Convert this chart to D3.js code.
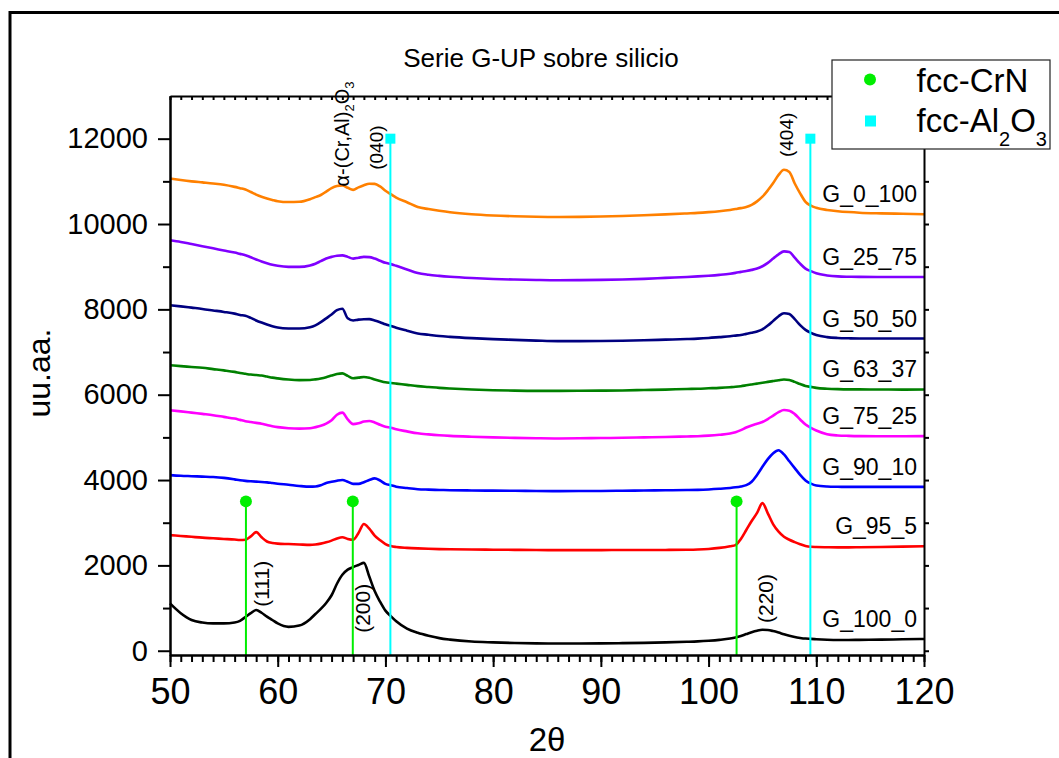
<!DOCTYPE html>
<html>
<head>
<meta charset="utf-8">
<script src="https://cdn.jsdelivr.net/npm/d3@7"></script>
<style>
  body { margin: 0; background: #fff; }
  svg { display: block; }
  text { font-family: "Liberation Sans", Arial, sans-serif; fill: #000; }
</style>
</head>
<body>
<svg id="chart" width="1059" height="758"></svg>
<script>
// Diffraction angle grid (degrees 2θ) shared by every pattern
const twoTheta = [
  50, 51, 52, 53, 54, 55, 56,
  56.5, 57, 57.5, 58, 58.5, 59, 59.5, 60,
  61, 62,
  63, 63.5, 64, 64.5, 65, 65.5, 66, 66.5, 67, 67.5, 68, 68.5, 69, 69.5, 70, 70.5, 71,
  72, 73, 74, 75, 76,
  78, 80, 82, 84, 86, 88, 90, 92, 94, 96, 98,
  99, 100, 101,
  102, 102.5, 103, 103.5, 104, 104.5, 105, 105.5, 106, 106.5, 107, 107.5, 108, 108.5, 109, 109.5, 110,
  111, 112, 113, 114,
  116, 118, 120
];

// Intensities (offset for display), one array per sample
const G_0_100 = [
  11064, 11030, 11000, 10975, 10950, 10920, 10870,
  10840, 10810, 10750, 10690, 10640, 10600, 10565, 10535,
  10515, 10520,
  10580, 10630, 10680, 10760, 10840, 10890, 10905, 10850, 10800, 10860, 10910, 10945, 10940, 10880, 10780, 10700, 10620,
  10510, 10400, 10350, 10310, 10275,
  10228, 10200, 10182, 10170, 10165, 10168, 10175, 10188, 10205, 10225, 10248,
  10260, 10278, 10300,
  10330, 10350, 10372, 10400, 10450, 10530, 10640, 10790, 10960, 11150, 11270, 11220, 10950, 10720, 10520, 10430, 10380,
  10330, 10300, 10280, 10265,
  10250, 10240, 10230
];
const G_25_75 = [
  9618, 9580, 9530, 9480, 9430, 9380, 9330,
  9300, 9270, 9220, 9170, 9120, 9080, 9045, 9020,
  8995, 8995,
  9030, 9070, 9130, 9190, 9230, 9258, 9265, 9230, 9190, 9210, 9230, 9225, 9190, 9140, 9090, 9060, 9020,
  8935, 8850, 8810, 8785, 8765,
  8735, 8712, 8698, 8688, 8682, 8685, 8690, 8700, 8715, 8738, 8760,
  8772, 8788, 8808,
  8835, 8855, 8878, 8900, 8925, 8956, 9010, 9090, 9190, 9290, 9360, 9345, 9210, 9070, 8955, 8895, 8845,
  8795, 8772, 8765, 8762,
  8760, 8760, 8760
];
const G_50_50 = [
  8096, 8070, 8040, 8010, 7975, 7940, 7900,
  7870, 7850, 7800, 7740, 7690, 7645, 7605, 7575,
  7552, 7550,
  7580, 7625, 7700, 7790, 7880, 7980, 8015, 7790, 7740, 7760, 7768, 7770, 7740, 7700, 7650, 7612, 7570,
  7500, 7435, 7405, 7375, 7355,
  7325, 7302, 7285, 7268, 7255, 7255, 7258, 7265, 7275, 7290, 7305,
  7315, 7330, 7350,
  7370, 7385, 7400, 7425, 7450, 7480, 7530, 7620, 7730, 7840, 7910, 7890, 7770, 7630, 7520, 7450, 7400,
  7350, 7330, 7322, 7318,
  7316, 7316, 7316
];
const G_63_37 = [
  6691, 6670, 6650, 6630, 6600, 6570, 6535,
  6510, 6490, 6472, 6460, 6450, 6425, 6400, 6382,
  6355, 6342,
  6345, 6360, 6380, 6410, 6450, 6485, 6500, 6440, 6385, 6400, 6415, 6395, 6355, 6320, 6290, 6275, 6260,
  6230, 6200, 6180, 6160, 6145,
  6122, 6105, 6095, 6090, 6090, 6092, 6095, 6100, 6110, 6120, 6135,
  6140, 6150, 6160,
  6175, 6185, 6200, 6220, 6240, 6260, 6280, 6300, 6320, 6340, 6355, 6345, 6300, 6250, 6205, 6183, 6160,
  6140, 6130, 6125, 6124,
  6122, 6120, 6122
];
const G_75_25 = [
  5637, 5610, 5580, 5550, 5520, 5480, 5440,
  5410, 5380, 5360, 5340, 5320, 5290, 5262, 5240,
  5215, 5205,
  5215, 5240, 5270, 5320, 5400, 5530, 5580, 5420, 5310, 5330, 5370, 5385, 5350, 5295, 5250, 5225, 5190,
  5140, 5095, 5070, 5050, 5035,
  5015, 5000, 4988, 4980, 4975, 4978, 4985, 4990, 5000, 5010, 5022,
  5028, 5040, 5060,
  5090, 5120, 5170, 5230, 5280, 5320, 5360, 5430, 5510, 5590, 5640, 5625, 5545, 5420, 5300, 5225, 5160,
  5075, 5045, 5035, 5030,
  5028, 5028, 5030
];
const G_90_10 = [
  4115, 4100, 4090, 4080, 4070, 4050, 4015,
  3995, 3980, 3970, 3962, 3955, 3945, 3930, 3915,
  3890, 3862,
  3845, 3850, 3880, 3930, 3960, 3985, 4000, 3960, 3910, 3910, 3950, 4000, 4038, 3990, 3910, 3880, 3845,
  3812, 3785, 3775, 3768, 3762,
  3756, 3752, 3748, 3744, 3740, 3742, 3745, 3750, 3755, 3760, 3765,
  3770, 3780, 3795,
  3815, 3830, 3850, 3880, 3960, 4120, 4310, 4490, 4630, 4700, 4600, 4440, 4280, 4120, 3990, 3915, 3870,
  3848, 3842, 3840, 3840,
  3840, 3840, 3841
];
const G_95_5 = [
  2710, 2690, 2670, 2650, 2635, 2620, 2605,
  2595, 2600, 2680, 2780, 2660, 2560, 2525, 2510,
  2500, 2490,
  2480, 2490, 2510, 2540, 2580, 2630, 2660, 2620, 2600, 2760, 2970, 2860, 2700, 2590, 2500, 2452, 2430,
  2410, 2398, 2390, 2382, 2378,
  2372, 2368, 2364, 2360, 2358, 2358, 2358, 2360, 2360, 2362, 2366,
  2372, 2385, 2410,
  2450, 2476, 2620, 2830, 3040, 3230, 3460, 3220, 2960, 2790, 2670, 2600, 2545, 2495, 2455, 2436, 2430,
  2425, 2422, 2422, 2425,
  2432, 2440, 2450
];
const G_100_0 = [
  1110, 880, 720, 660, 640, 640, 660,
  700, 790, 880, 955, 890, 800, 720, 640,
  560, 590,
  740, 860, 980, 1120, 1300, 1570, 1780, 1900, 1960, 2010, 2060, 1740, 1400, 1150, 940, 810, 690,
  520, 420, 350, 295, 260,
  215, 195, 180, 172, 170, 170, 172, 178, 185, 195, 210,
  220, 235, 255,
  285, 310, 345, 390, 435, 470, 490, 485, 460, 425, 385, 350, 320, 300, 285, 278, 270,
  258, 252, 252, 255,
  260, 268, 275
];

const seriesNames  = ["G_0_100", "G_25_75", "G_50_50", "G_63_37", "G_75_25", "G_90_10", "G_95_5", "G_100_0"];
const seriesValues = [G_0_100, G_25_75, G_50_50, G_63_37, G_75_25, G_90_10, G_95_5, G_100_0];
const seriesColors = ["#ff8000", "#8000ff", "#000080", "#008000", "#ff00ff", "#0000ff", "#ff0000", "#000000"];

// Reference reflections
const crnPeaks = [57.05, 66.97, 102.6];
const crnMarkerLevel = 3500;
const al2o3Peaks = [70.46, 109.45];
const al2o3MarkerLevel = 12000;

// Axis ticks
const xMajorTicks = [50, 60, 70, 80, 90, 100, 110, 120];
const yMajorTicks = [0, 2000, 4000, 6000, 8000, 10000, 12000];

const width = 1059, height = 758;
const plot = { left: 170, right: 924, top: 96, bottom: 655 };

const svg = d3.select("#chart");

const x = d3.scaleLinear().domain([50, 120]).range([plot.left, plot.right]);
const y = d3.scaleLinear().domain([-100, 13000]).range([plot.bottom, plot.top]);

// outer frame
svg.append("path")
  .attr("d", `M10,${height + 5} L10,12.5 L${width + 5},12.5`)
  .attr("fill", "none").attr("stroke", "#000").attr("stroke-width", 3);

// title
svg.append("text")
  .attr("x", 541).attr("y", 67)
  .attr("text-anchor", "middle")
  .attr("font-size", 26)
  .text("Serie G-UP sobre silicio");

// patterns
const line = d3.line()
  .x(d => x(d[0]))
  .y(d => y(d[1]))
  .curve(d3.curveMonotoneX);

const gSeries = svg.append("g");
seriesValues.forEach((vals, i) => {
  const pts = twoTheta.map((t, k) => [t, vals[k]]);
  gSeries.append("path")
    .attr("d", line(pts))
    .attr("fill", "none")
    .attr("stroke", seriesColors[i])
    .attr("stroke-width", 2.6)
    .attr("stroke-linejoin", "round");
  // sample name, just above the end of its pattern
  gSeries.append("text")
    .attr("x", 917)
    .attr("y", y(vals[vals.length - 1]) - 12)
    .attr("text-anchor", "end")
    .attr("font-size", 23)
    .text(seriesNames[i]);
});

// reference drop lines with markers
const gRef = svg.append("g");
crnPeaks.forEach(p => {
  gRef.append("line")
    .attr("x1", x(p)).attr("x2", x(p))
    .attr("y1", y(crnMarkerLevel)).attr("y2", plot.bottom)
    .attr("stroke", "#00ee00").attr("stroke-width", 2);
  gRef.append("circle")
    .attr("cx", x(p)).attr("cy", y(crnMarkerLevel)).attr("r", 6)
    .attr("fill", "#00ee00");
});
al2o3Peaks.forEach(p => {
  gRef.append("line")
    .attr("x1", x(p)).attr("x2", x(p))
    .attr("y1", y(al2o3MarkerLevel)).attr("y2", plot.bottom)
    .attr("stroke", "#00ffff").attr("stroke-width", 2);
  gRef.append("rect")
    .attr("x", x(p) - 5).attr("y", y(al2o3MarkerLevel) - 5)
    .attr("width", 10).attr("height", 10)
    .attr("fill", "#00ffff");
});

// Miller-index annotations (rotated, reading upward)
const annotations = [
  { text: "(111)", angle: 59.15, level: 1030, size: 21 },
  { text: "(200)", angle: 68.6, level: 420, size: 21 },
  { text: "(220)", angle: 105.95, level: 650, size: 21 },
  { text: "(040)", angle: 69.75, level: 11270, size: 19 },
  { text: "(404)", angle: 107.8, level: 11570, size: 19 }
];
annotations.forEach(a => {
  svg.append("text")
    .attr("transform", `translate(${x(a.angle)},${y(a.level)}) rotate(-90)`)
    .attr("font-size", a.size)
    .text(a.text);
});
const alpha = svg.append("text")
  .attr("transform", `translate(${x(66.65)},${y(10880)}) rotate(-90)`)
  .attr("font-size", 20);
alpha.append("tspan").text("α-(Cr,Al)");
alpha.append("tspan").attr("font-size", 13).attr("dy", 5).text("2");
alpha.append("tspan").attr("dy", -5).text("O");
alpha.append("tspan").attr("font-size", 13).attr("dy", 5).text("3");

// axes
function styleAxis(g) {
  g.selectAll(".domain").attr("stroke", "#000").attr("stroke-width", 2);
  g.selectAll(".tick line").attr("stroke", "#000").attr("stroke-width", 2);
  g.selectAll(".tick text").attr("fill", "#000").attr("font-family", "Liberation Sans, Arial, sans-serif");
}
const xMinor = d3.range(50, 121, 1);
const yMinor = d3.range(1000, 13000, 2000);
const yAll = d3.range(0, 13000, 1000);

// bottom
svg.append("g").attr("transform", `translate(0,${plot.bottom})`)
  .call(d3.axisBottom(x).tickValues(xMinor).tickSize(7).tickSizeOuter(0).tickFormat(""))
  .call(styleAxis);
svg.append("g").attr("transform", `translate(0,${plot.bottom})`)
  .call(d3.axisBottom(x).tickValues(xMajorTicks).tickSize(12).tickSizeOuter(0).tickPadding(11).tickFormat(d3.format("d")))
  .call(styleAxis)
  .call(g => g.selectAll(".tick text").attr("font-size", 36));

// top
svg.append("g").attr("transform", `translate(0,${plot.top})`)
  .call(d3.axisBottom(x).tickValues(xMinor).tickSize(4).tickSizeOuter(0).tickFormat(""))
  .call(styleAxis);

// left
svg.append("g").attr("transform", `translate(${plot.left},0)`)
  .call(d3.axisLeft(y).tickValues(yMinor).tickSize(7).tickSizeOuter(0).tickFormat(""))
  .call(styleAxis);
svg.append("g").attr("transform", `translate(${plot.left},0)`)
  .call(d3.axisLeft(y).tickValues(yMajorTicks).tickSize(12).tickSizeOuter(0).tickPadding(10).tickFormat(d3.format("d")))
  .call(styleAxis)
  .call(g => g.selectAll(".tick text").attr("font-size", 29));

// right
svg.append("g").attr("transform", `translate(${plot.right},0)`)
  .call(d3.axisRight(y).tickValues(yAll).tickSize(5).tickSizeOuter(0).tickFormat(""))
  .call(styleAxis);

// axis titles
svg.append("text")
  .attr("x", 547).attr("y", 751)
  .attr("text-anchor", "middle")
  .attr("font-size", 33)
  .text("2θ");
svg.append("text")
  .attr("transform", "translate(50,373) rotate(-90)")
  .attr("text-anchor", "middle")
  .attr("font-size", 32)
  .text("uu.aa.");

// legend
const legend = svg.append("g");
legend.append("rect")
  .attr("x", 832).attr("y", 60).attr("width", 218).attr("height", 89)
  .attr("fill", "#fff").attr("stroke", "#222").attr("stroke-width", 1.2);
legend.append("circle").attr("cx", 870).attr("cy", 79.5).attr("r", 6).attr("fill", "#00ee00");
legend.append("rect").attr("x", 865).attr("y", 115.5).attr("width", 11).attr("height", 11).attr("fill", "#00ffff");
legend.append("text").attr("x", 916.5).attr("y", 91.5).attr("font-size", 33).text("fcc-CrN");
const l2 = legend.append("text").attr("x", 916.5).attr("y", 131.5).attr("font-size", 33);
l2.append("tspan").text("fcc-Al");
l2.append("tspan").attr("font-size", 20).attr("dy", 14).text("2");
l2.append("tspan").attr("dy", -14).text("O");
l2.append("tspan").attr("font-size", 20).attr("dy", 14).text("3");
</script>
</body>
</html>
